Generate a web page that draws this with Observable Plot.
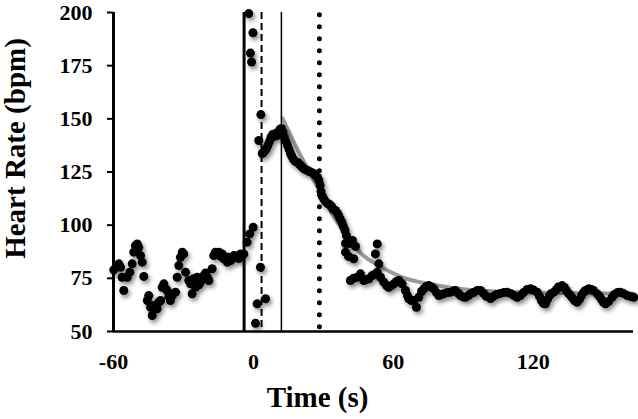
<!DOCTYPE html>
<html><head><meta charset="utf-8">
<script src="https://cdn.jsdelivr.net/npm/d3@7"></script>
<script src="https://cdn.jsdelivr.net/npm/@observablehq/plot@0.6"></script>
<style>
body{margin:0;background:#fff}
g[aria-label="dot"]{filter:drop-shadow(2px 3px 2px rgba(0,0,0,0.45))}
</style></head><body><div id="chart"></div>
<script>
// [time (s), heart rate (bpm)]
const baseline = [[-59.9,79.0],[-57.7,81.8],[-57.0,80.2],[-56.3,75.5],[-55.6,69.3],[-54.1,75.5],[-53.0,77.9],[-52.0,81.8],[-51.3,87.3],[-50.6,90.4],[-50.2,88.0],[-49.8,91.2],[-49.2,89.6],[-48.4,85.7],[-47.7,82.6],[-47.0,75.9],[-45.5,64.6],[-44.9,66.9],[-44.1,61.4],[-43.4,57.5],[-42.7,62.2],[-41.3,60.7],[-40.6,63.8],[-39.8,64.6],[-39.1,70.8],[-38.4,72.4],[-37.7,70.1],[-37.0,69.3],[-36.3,66.5],[-35.6,64.6],[-34.8,66.9],[-33.4,68.5],[-32.7,75.5],[-32.0,81.0],[-31.3,84.9],[-30.5,87.3],[-29.9,86.5],[-29.1,77.9],[-27.7,74.0],[-27.0,72.4],[-26.3,67.7],[-25.6,74.8],[-24.8,70.8],[-24.1,75.5],[-23.4,72.0],[-22.7,73.2],[-21.3,76.3],[-20.5,77.5],[-19.8,75.5],[-19.1,74.0],[-17.7,79.5],[-17.0,85.7],[-16.3,87.3],[-14.8,87.3],[-14.1,85.5],[-13.4,86.5],[-12.7,84.2],[-12.0,85.0],[-11.2,82.6],[-10.6,84.9],[-9.8,83.3],[-9.1,84.2],[-8.4,85.7],[-7.7,85.5],[-7.0,84.9],[-6.2,84.3],[-5.5,86.5],[-4.8,85.8],[-4.1,86.5],[-2.7,92.0],[-1.6,95.9],[-0.1,99.0]];
const onset = [[-2.0,199.5],[-0.2,190.5],[-1.3,180.9],[-0.8,176.7],[3.2,152.0],[2.3,139.8],[0.9,53.9],[1.6,63.0],[3.0,80.2],[5.2,65.4],[3.8,133.7],[4.3,134.2],[5.0,135.1],[5.6,136.0],[6.2,137.5],[6.9,139.3],[7.5,141.2],[8.2,142.6],[8.8,141.7],[9.5,143.1],[10.1,142.1],[10.8,144.0],[11.4,145.0],[12.0,145.5]];
const decay = [[12.7,143.6],[13.3,141.2],[14.0,139.3],[14.6,137.5],[15.3,135.6],[15.9,133.7],[16.5,132.3],[17.2,130.9],[18.0,129.9],[18.9,129.5],[19.8,128.5],[20.6,127.6],[21.5,126.6],[22.3,126.2],[23.2,125.7],[24.0,125.2],[24.9,124.8],[25.8,124.3],[26.6,123.4],[27.5,122.4],[28.1,121.0],[28.6,118.7],[29.0,115.8],[29.6,113.5],[30.3,112.1],[30.9,111.1],[31.8,110.2],[32.6,109.7],[33.5,108.8],[34.3,107.4],[35.2,106.9],[36.1,105.5],[36.7,104.1],[37.3,102.7],[38.0,101.3],[38.6,99.4],[39.3,97.5],[39.9,95.1],[40.6,92.8],[39.5,91.4],[41.2,91.4],[42.5,92.8],[43.8,90.0],[39.5,87.3],[40.8,85.3],[43.0,84.2],[53.1,91.2],[52.3,86.5],[53.8,81.8]];
const recovery = [[41.6,74.0],[42.9,75.0],[44.5,75.5],[45.9,77.1],[47.3,74.0],[48.5,74.5],[49.5,74.8],[50.9,76.3],[51.9,76.8],[53.1,77.9],[54.5,75.5],[55.9,73.2],[57.1,71.6],[58.0,70.8],[59.2,71.6],[60.2,72.4],[61.4,73.5],[62.3,74.0],[63.8,72.4],[65.2,69.3],[66.1,66.9],[66.6,65.4],[67.8,64.6],[68.8,64.6],[69.9,61.4],[70.9,66.1],[72.1,68.8],[73.1,70.1],[74.2,71.2],[75.2,71.6],[76.4,70.9],[77.3,70.1],[78.5,68.3],[79.5,66.9],[80.6,67.4],[81.6,67.7],[83.2,68.3],[84.5,68.5],[85.8,69.0],[86.6,69.3],[87.9,67.9],[88.8,66.9],[90.1,66.2],[90.9,66.1],[92.2,66.9],[93.1,67.7],[94.4,68.3],[96.0,69.3],[97.4,69.3],[98.7,67.9],[99.9,66.5],[101.7,65.5],[102.9,66.5],[104.2,67.4],[105.9,67.9],[107.4,68.3],[108.8,68.5],[110.2,67.9],[111.7,66.9],[113.1,66.1],[114.5,66.9],[115.8,68.3],[117.4,69.8],[118.8,70.1],[120.1,69.5],[121.7,68.5],[122.7,66.5],[123.5,64.6],[124.4,63.2],[125.2,63.0],[126.1,65.1],[127.0,66.9],[127.8,67.9],[128.8,68.5],[130.0,69.8],[130.8,70.9],[132.4,71.6],[133.4,70.7],[134.2,69.3],[135.1,67.9],[136.0,66.9],[136.8,65.8],[137.7,64.6],[138.8,63.8],[139.8,65.1],[140.7,66.9],[141.5,68.3],[142.4,69.3],[143.8,70.1],[145.0,69.8],[145.8,69.3],[147.4,67.7],[148.4,66.5],[149.3,65.1],[150.1,63.7],[151.0,63.0],[152.3,64.1],[153.8,66.1],[154.8,67.4],[156.1,68.3],[157.4,68.5],[158.7,67.9],[160.3,66.9],[161.7,66.5],[163.1,66.1]];
// fitted recovery curve
const fitCurve = [[12.5,150.2],[18.0,137.5],[23.6,125.7],[28.8,115.4],[33.9,105.0],[39.5,96.0],[45.9,87.0],[54.5,80.5],[63.1,75.8],[75.9,72.2],[93.1,69.5],[114.5,68.5],[140.3,68.0],[163.0,67.8]];
// event markers (s)
const eventThick = [-4.0];
const eventDashed = [3.5];
const eventThin = [12.0];
const eventDotted = [28.3];
const xTicks = [-60, 0, 60, 120];
const yTicks = [50, 75, 100, 125, 150, 175, 200];
const xDomain = [-60, 163];
const yDomain = [50, 200];
const xLabel = "Time (s)";
const yLabel = "Heart Rate (bpm)";

const points = [...baseline, ...onset, ...decay, ...recovery];

const chart = Plot.plot({
  width: 638, height: 419,
  marginLeft: 113, marginRight: 5, marginTop: 12, marginBottom: 88,
  x: {domain: xDomain},
  y: {domain: yDomain},
  style: {fontFamily: "'Liberation Serif','Times New Roman',serif", fontWeight: "bold", background: "#fff", color: "#000"},
  marks: [
    Plot.axisX(xTicks, {tickSize: 0, tickPadding: 22, fontSize: 22, label: null, tickFormat: d => String(d)}),
    Plot.axisY(yTicks, {tickSize: 6, tickPadding: 15, fontSize: 22, strokeWidth: 2, label: null, tickFormat: d => String(d)}),
    Plot.line(fitCurve, {x: d => d[0], y: d => d[1], stroke: "#9b9b9b", strokeWidth: 4, curve: "monotone-x"}),
    Plot.ruleX(eventThick, {stroke: "#000", strokeWidth: 3}),
    Plot.ruleX(eventDashed, {stroke: "#000", strokeWidth: 2, strokeDasharray: "7,4"}),
    Plot.ruleX(eventThin, {stroke: "#000", strokeWidth: 1.5}),
    Plot.ruleX(eventDotted, {stroke: "#000", strokeWidth: 5, strokeDasharray: "0,12", strokeLinecap: "round", y1: 52, y2: 200}),
    Plot.dot(points, {x: d => d[0], y: d => d[1], r: 4.5, fill: "#000", stroke: "none"}),
    Plot.ruleX([xDomain[0]], {stroke: "#000", strokeWidth: 3}),
    Plot.ruleY([yDomain[0]], {stroke: "#000", strokeWidth: 2.5}),
    Plot.text([xLabel], {text: d => d, frameAnchor: "bottom", dx: -56, dy: 66, fontSize: 29, lineAnchor: "middle", textAnchor: "middle"}),
    Plot.text([yLabel], {text: d => d, frameAnchor: "left", rotate: -90, dx: -98, dy: -23.5, fontSize: 29, lineAnchor: "middle", textAnchor: "middle"})
  ]
});
document.getElementById("chart").appendChild(chart);
</script>
</body></html>
